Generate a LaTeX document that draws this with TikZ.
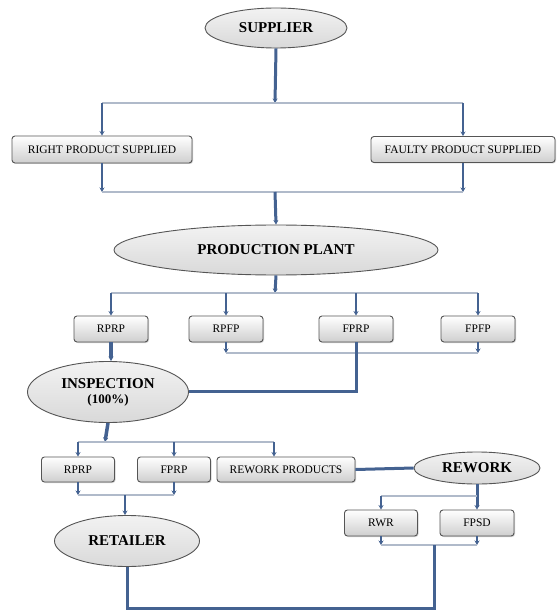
\documentclass[tikz,border=0pt]{standalone}
\usepackage{fontspec}
\setmainfont{Liberation Serif}
\usetikzlibrary{shapes.geometric,arrows.meta,shadows}
\definecolor{linkblue}{RGB}{68,98,145}
\definecolor{thinblue}{RGB}{176,186,202}
\definecolor{edgegray}{RGB}{85,85,85}
\tikzset{
  oval/.style={ellipse, draw=edgegray, line width=0.9pt, top color=gray!10, bottom color=gray!30,
    inner sep=0pt, font=\bfseries\fontsize{15}{15}\selectfont, align=center},
  pbox/.style={rectangle, rounded corners=3pt, draw=edgegray, line width=0.9pt, top color=white,
    bottom color=gray!38, inner sep=0pt, font=\fontsize{11.5}{13}\selectfont,
    drop shadow={opacity=0.35, shadow xshift=1pt, shadow yshift=-1pt}},
  thicklink/.style={draw=linkblue, line width=3pt},
  stub/.style={draw=linkblue, line width=2.2pt},
  thinlink/.style={draw=thinblue, line width=1.3pt},
  arr/.style={-{Stealth[length=4.5pt,width=5pt]}},
}
\begin{document}
\begin{tikzpicture}[x=1pt,y=-1pt]
\useasboundingbox[fill=white] (0,0) rectangle (559,612);
% nodes
\node[oval, minimum width=142pt, minimum height=40pt] (sup) at (276,28) {SUPPLIER};
\node[pbox, minimum width=180pt, minimum height=27pt] (rps) at (102,149.5) {RIGHT PRODUCT SUPPLIED};
\node[pbox, minimum width=184pt, minimum height=26pt] (fps) at (463,149.5) {FAULTY PRODUCT SUPPLIED};
\node[oval, minimum width=324pt, minimum height=50pt] (pp) at (276,250) {PRODUCTION PLANT};
\node[pbox, minimum width=74pt, minimum height=26pt] (b1) at (111,329) {RPRP};
\node[pbox, minimum width=74pt, minimum height=26pt] (b2) at (226,329) {RPFP};
\node[pbox, minimum width=74pt, minimum height=26pt] (b3) at (356,329) {FPRP};
\node[pbox, minimum width=74pt, minimum height=26pt] (b4) at (478,329) {FPFP};
\node[oval, minimum width=161pt, minimum height=61pt] (insp) at (108,392) {INSPECTION\\[0pt]{\fontsize{13}{14}\selectfont(100\%)}};
\node[pbox, minimum width=73pt, minimum height=25pt] (c1) at (78,469.5) {RPRP};
\node[pbox, minimum width=73pt, minimum height=25pt] (c2) at (174,469.5) {FPRP};
\node[pbox, minimum width=138pt, minimum height=25pt] (c3) at (286,469.5) {REWORK PRODUCTS};
\node[oval, minimum width=126pt, minimum height=32pt] (rew) at (477,468) {REWORK};
\node[pbox, minimum width=73pt, minimum height=26pt] (d1) at (381,523) {RWR};
\node[pbox, minimum width=74pt, minimum height=26pt] (d2) at (477,523) {FPSD};
\node[oval, minimum width=145pt, minimum height=51pt] (ret) at (127,541) {RETAILER};
% junction coordinates
\coordinate (j1) at (275,103);
\coordinate (j2) at (275,192);
\coordinate (j3) at (275,293);
\coordinate (j4) at (352,353);
\coordinate (j5) at (356,391);
\coordinate (j6) at (105,442);
\coordinate (j7) at (274,442);
\coordinate (j8) at (125,495);
\coordinate (j9) at (477,496);
\coordinate (j10) at (434,545);
\coordinate (j11) at (434,608);
\coordinate (j12) at (127,608);
% supplier level
\draw[thicklink, arr] (sup.south) -- (j1);
\draw[thinlink] (rps.north |- j1) -- (fps.north |- j1);
\draw[stub, arr] (rps.north |- j1) -- (rps.north);
\draw[stub, arr] (fps.north |- j1) -- (fps.north);
\draw[stub, arr] (rps.south) -- (rps.south |- j2);
\draw[stub, arr] (fps.south) -- (fps.south |- j2);
\draw[thinlink] (rps.south |- j2) -- (fps.south |- j2);
\draw[thicklink, arr] (j2) -- (pp.north);
% production level
\draw[thicklink, arr] (pp.south) -- (j3);
\draw[thinlink] (b1.north |- j3) -- (b4.north |- j3);
\foreach \b in {b1,b2,b3,b4} \draw[stub, arr] (\b.north |- j3) -- (\b.north);
\draw[stub, arr] (b2.south) -- (b2.south |- j4);
\draw[stub, arr] (b4.south) -- (b4.south |- j4);
\draw[thinlink] (b2.south |- j4) -- (b4.south |- j4);
\draw[thicklink] (b3.south) -- (j5) -- (j5 -| insp.east);
\draw[draw=linkblue, line width=3.5pt, arr] (b1.south) -- (b1.south |- insp.north);
% inspection level
\draw[draw=linkblue, line width=3.5pt, arr] (insp.south) -- (j6);
\draw[thinlink] (c1.north |- j6) -- (j7);
\draw[stub, arr] (c1.north |- j6) -- (c1.north);
\draw[stub, arr] (c2.north |- j6) -- (c2.north);
\draw[stub, arr] (j7) -- (j7 |- c3.north);
\draw[thicklink] (c3.east) -- (rew.west);
% rework level
\draw[thicklink, arr] (rew.south) -- (d2.north);
\draw[thinlink] (j9) -- (d1.north |- j9);
\draw[stub, arr] (d1.north |- j9) -- (d1.north);
\draw[stub, arr] (d1.south) -- (d1.south |- j10);
\draw[stub, arr] (d2.south) -- (d2.south |- j10);
\draw[thinlink] (d1.south |- j10) -- (d2.south |- j10);
\draw[thicklink] (j10) -- (j11) -- (j12) -- (ret.south);
% retailer level
\draw[stub, arr] (c1.south) -- (c1.south |- j8);
\draw[stub, arr] (c2.south) -- (c2.south |- j8);
\draw[thinlink] (c1.south |- j8) -- (c2.south |- j8);
\draw[stub, arr] (j8) -- (j8 |- ret.north);
\end{tikzpicture}
\end{document}
